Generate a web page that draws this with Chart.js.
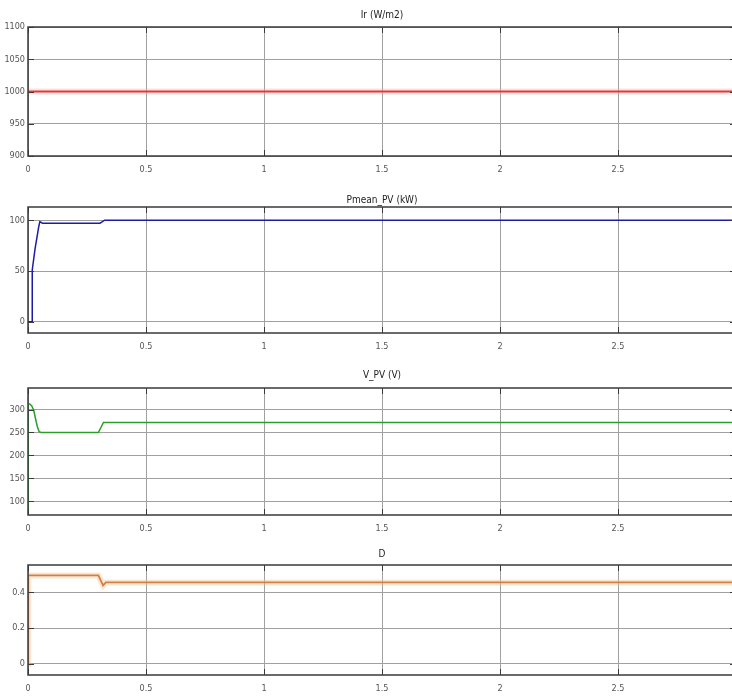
<!DOCTYPE html>
<html>
<head>
<meta charset="utf-8">
<script src="https://cdn.jsdelivr.net/npm/chart.js@4.4.1/dist/chart.umd.min.js"></script>
<style>
  html, body { margin: 0; padding: 0; background: #fff; overflow: hidden; width: 732px; height: 696px; }
  .panel { position: absolute; left: 0; width: 732px; }
</style>
</head>
<body>
<div class="panel" style="top:0px;height:176px"><canvas id="irChart" width="732" height="176"></canvas></div>
<div class="panel" style="top:180px;height:173px"><canvas id="pChart" width="732" height="173"></canvas></div>
<div class="panel" style="top:361px;height:174px"><canvas id="vChart" width="732" height="174"></canvas></div>
<div class="panel" style="top:538px;height:157px"><canvas id="dChart" width="732" height="157"></canvas></div>
<script>
// ---- data (time in s) ----
const timeTicks = [0, 0.5, 1, 1.5, 2, 2.5, 3];
const timeEnd = 3;        // scope end time
const timeVisible = 2.983; // part of the window that fits the picture

const irTime = [0, 3];
const irValues = [1000, 1000];
const irTicks = [900, 950, 1000, 1050, 1100];

const pTime = [0, 0.017, 0.018, 0.03, 0.045, 0.05, 0.055, 0.061, 0.305, 0.312, 0.325, 3];
const pValues = [0, 0, 51, 72, 93, 98.5, 98, 97, 97, 98, 100, 100];
const pTicks = [0, 50, 100];

const vTime = [0, 0.001, 0.008, 0.016, 0.024, 0.032, 0.04, 0.047, 0.055, 0.298, 0.31, 0.32, 3];
const vValues = [0, 313, 312, 308, 299, 280, 262, 252, 250, 250, 262, 272, 272];
const vTicks = [100, 150, 200, 250, 300];

const dTime = [0, 0.001, 0.298, 0.312, 0.318, 0.33, 3];
const dValues = [0, 0.494, 0.494, 0.455, 0.438, 0.455, 0.455];
const dTicks = [0, 0.2, 0.4];

const FONT = "'Liberation Sans Narrow', 'DejaVu Sans Condensed', 'Liberation Sans', sans-serif";

/* ===============================
   Scope frame + inner tick marks + title
================================*/
const scopeFrame = {
  id: "scopeFrame",
  afterDraw(chart, args, opts) {
    const { ctx, chartArea: a, scales } = chart;
    const right = scales.x.getPixelForValue(timeEnd);
    ctx.save();
    ctx.strokeStyle = "#3a3a3a";
    ctx.lineWidth = 1;
    // inner tick marks
    ctx.beginPath();
    scales.y.ticks.forEach((t) => {
      const y = Math.round(scales.y.getPixelForValue(t.value)) + 0.5;
      ctx.moveTo(a.left, y); ctx.lineTo(a.left + 6, y);
      ctx.moveTo(right, y); ctx.lineTo(right - 6, y);
    });
    scales.x.ticks.forEach((t) => {
      const x = Math.round(scales.x.getPixelForValue(t.value)) + 0.5;
      ctx.moveTo(x, a.top); ctx.lineTo(x, a.top + 6);
      ctx.moveTo(x, a.bottom); ctx.lineTo(x, a.bottom - 6);
    });
    ctx.stroke();
    // frame (right side falls outside the picture)
    ctx.lineWidth = 1.5;
    ctx.strokeRect(a.left, a.top, right - a.left, a.bottom - a.top);
    // title
    ctx.fillStyle = "#222";
    ctx.font = "10px " + FONT;
    ctx.textAlign = "center";
    ctx.textBaseline = "middle";
    ctx.fillText(opts.text, (a.left + right) / 2, a.top - opts.offset);
    ctx.restore();
  }
};

function toPoints(times, values) {
  return times.map((t, i) => ({ x: t, y: values[i] }));
}

function makeScope(id, title, titleOffset, times, values, color, width, yMin, yMax, yTicks, halo) {
  const datasets = [];
  if (halo) {
    datasets.push({
      data: toPoints(times, values),
      borderColor: halo,
      borderWidth: 6,
      pointRadius: 0,
      tension: 0
    });
  }
  datasets.push({
    data: toPoints(times, values),
    borderColor: color,
    borderWidth: width,
    pointRadius: 0,
    tension: 0
  });

  new Chart(document.getElementById(id), {
    type: "line",
    data: { datasets },
    plugins: [scopeFrame],
    options: {
      responsive: false,
      animation: false,
      layout: { padding: { top: 27, right: 0, left: 0, bottom: 0 } },
      plugins: {
        legend: { display: false },
        tooltip: { enabled: false },
        scopeFrame: { text: title, offset: titleOffset }
      },
      scales: {
        x: {
          type: "linear",
          min: 0,
          max: timeVisible,
          afterBuildTicks: (s) => {
            s.ticks = timeTicks.filter((v) => v <= timeVisible).map((v) => ({ value: v }));
          },
          afterFit: (s) => { s.height = 20; },
          ticks: {
            padding: 8,
            maxRotation: 0,
            color: "#555",
            font: { family: FONT, size: 9 },
            callback: (v) => String(v)
          },
          grid: { color: "#a0a0a0", drawTicks: false },
          border: { display: false }
        },
        y: {
          min: yMin,
          max: yMax,
          afterBuildTicks: (s) => { s.ticks = yTicks.map((v) => ({ value: v })); },
          afterFit: (s) => { s.width = 28; },
          ticks: {
            padding: 3,
            color: "#555",
            font: { family: FONT, size: 9 },
            callback: (v) => String(v)
          },
          grid: { color: "#a0a0a0", drawTicks: false },
          border: { display: false }
        }
      }
    }
  });
}

makeScope("irChart", "Ir (W/m2)", 12, irTime, irValues, "#cc0000", 2, 900, 1100, irTicks, "rgba(255,170,170,0.35)");
makeScope("pChart", "Pmean_PV (kW)", 7, pTime, pValues, "#1c1ca8", 1.5, -11, 113, pTicks, null);
makeScope("vChart", "V_PV (V)", 13, vTime, vValues, "#28a028", 1.5, 70, 347, vTicks, null);
makeScope("dChart", "D", 11, dTime, dValues, "#b9541c", 1.8, -0.062, 0.552, dTicks, "rgba(245,195,140,0.4)");
</script>
</body>
</html>
